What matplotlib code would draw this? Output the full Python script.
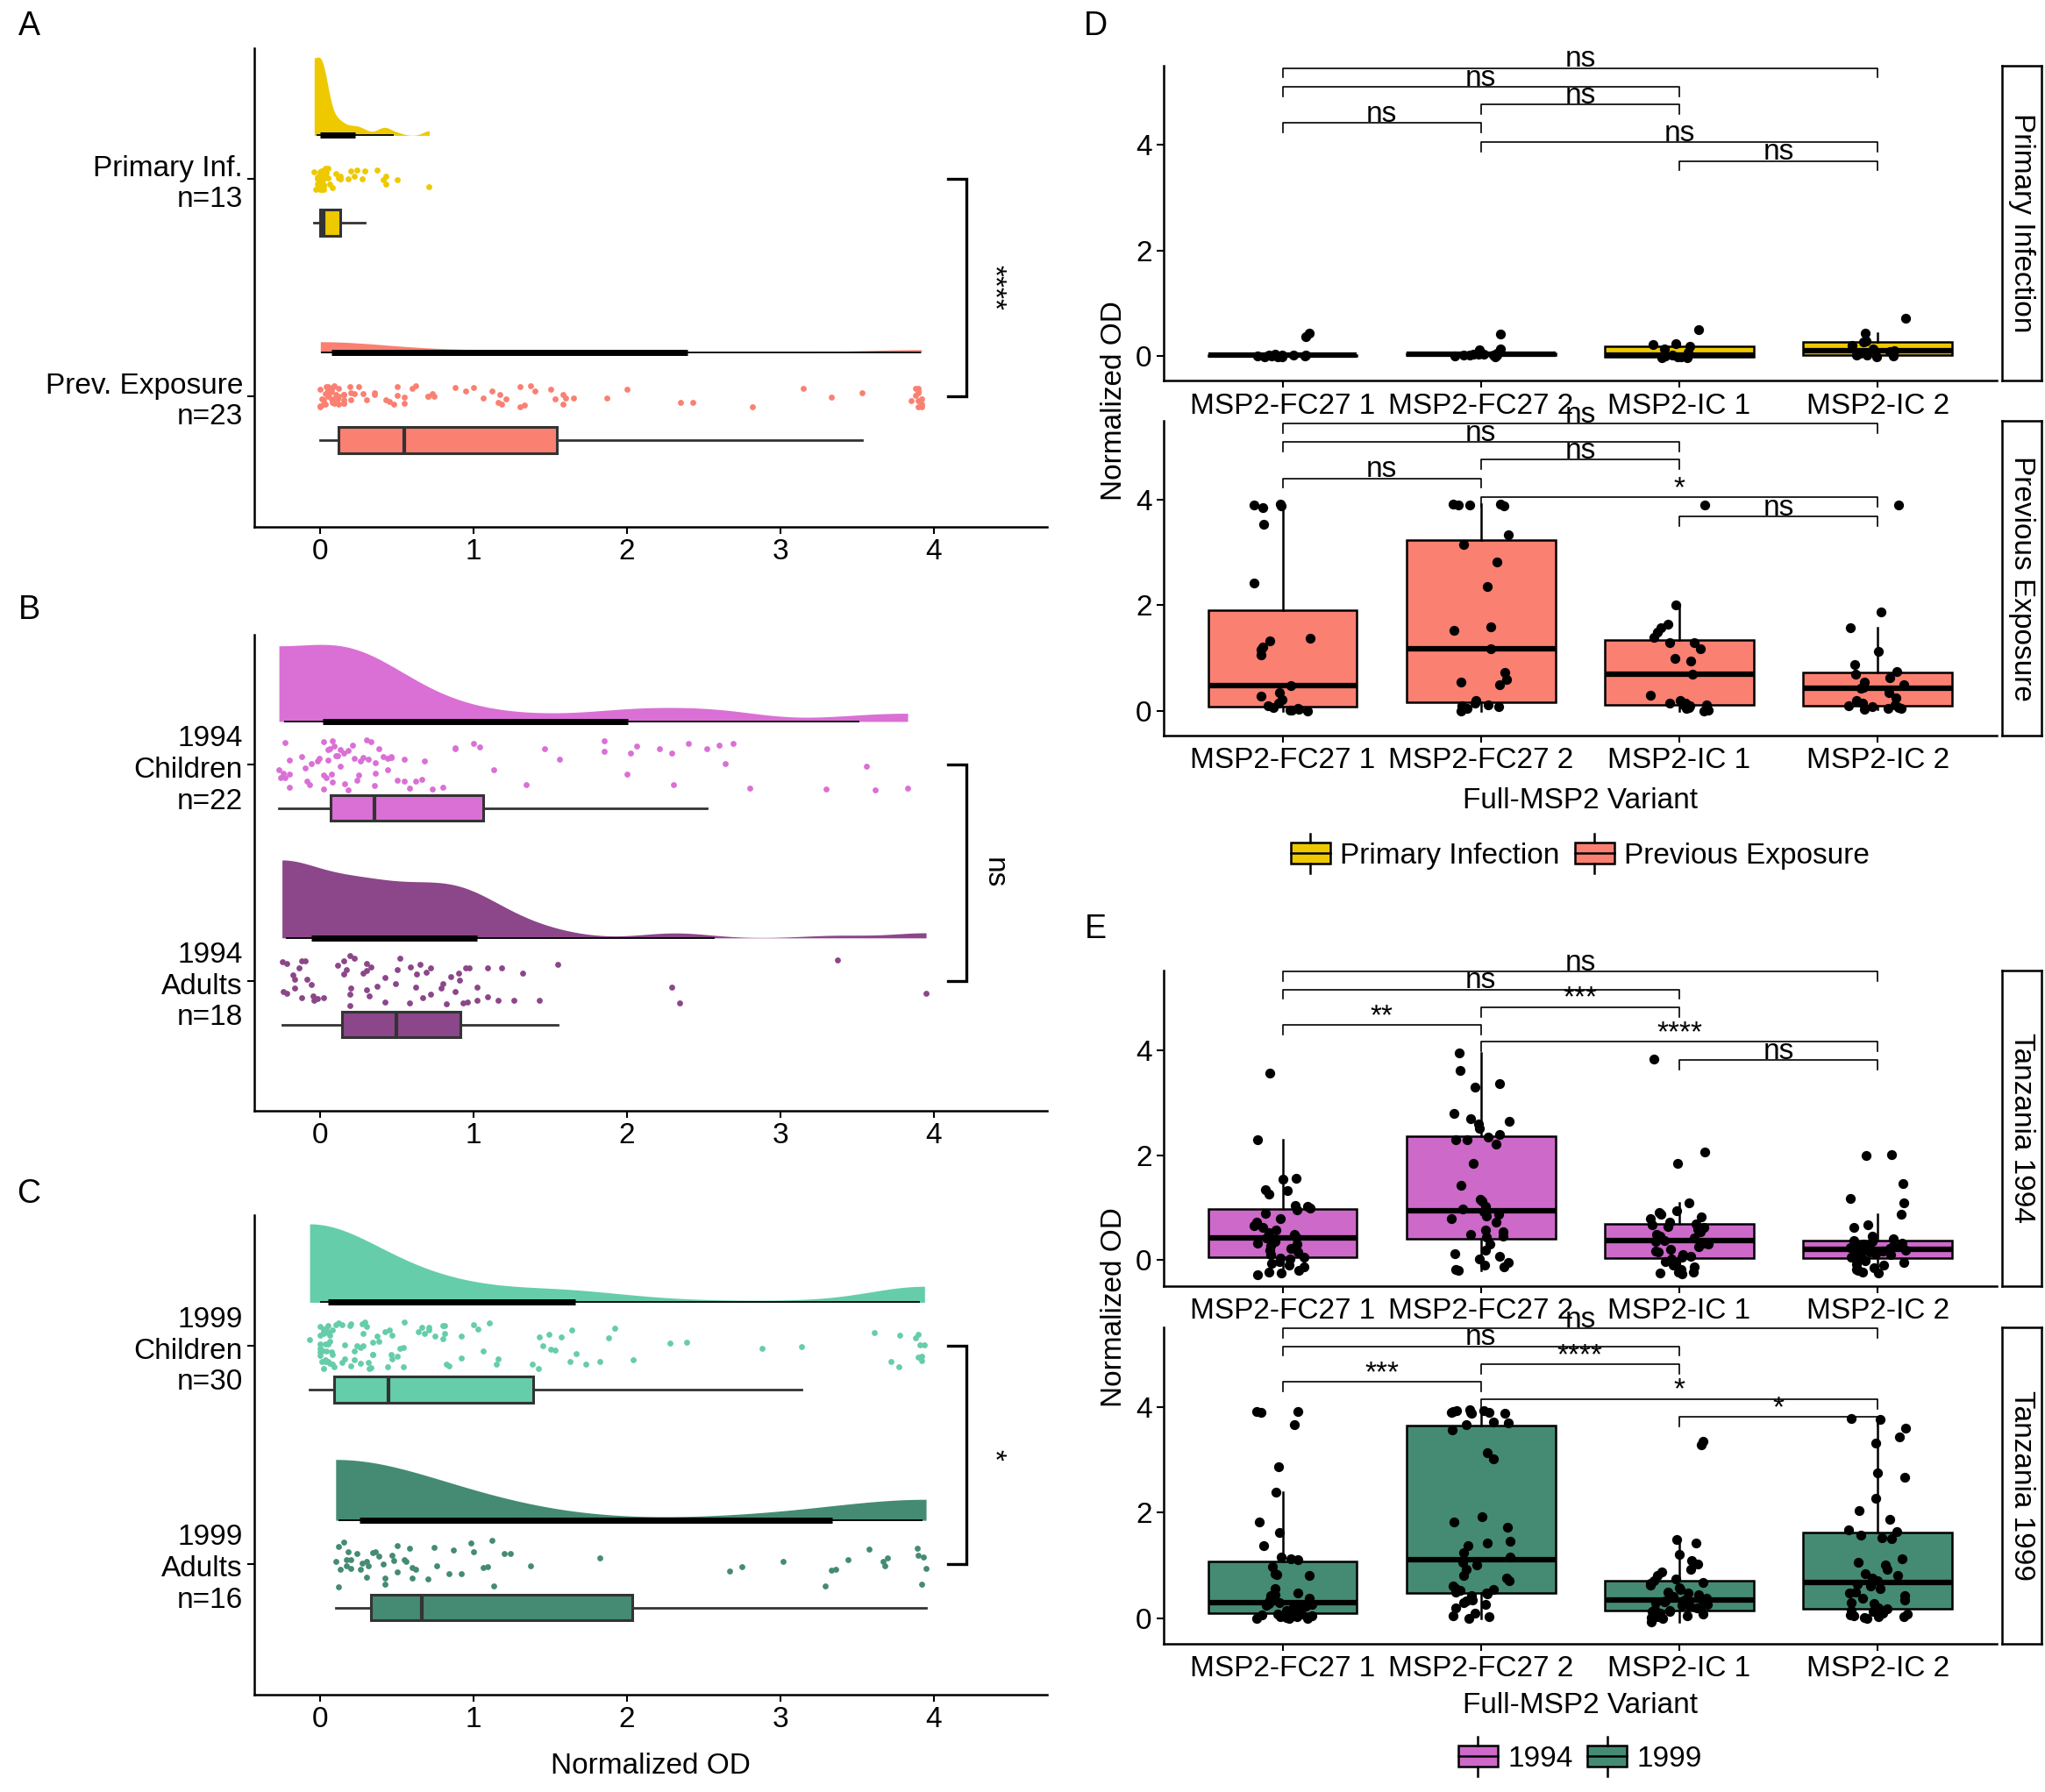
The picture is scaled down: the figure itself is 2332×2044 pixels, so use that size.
import numpy as np
import matplotlib.pyplot as plt
from matplotlib.patches import Rectangle, Patch
from matplotlib.lines import Line2D
from matplotlib.legend_handler import HandlerBase

plt.rcParams['font.family'] = ['Liberation Sans', 'DejaVu Sans']
plt.rcParams['font.size'] = 24

# ---------------- data (normalized OD per subject, per variant) ----------------
variants = ['MSP2-FC27 1', 'MSP2-FC27 2', 'MSP2-IC 1', 'MSP2-IC 2']

# primary infection, n=13
pi_fc1 = [0.43, 0.37, 0.03, 0.02, 0.01, 0.01, 0.01, 0.0, 0.0, 0.0, -0.01, -0.01, -0.02]
pi_fc2 = [0.41, 0.13, 0.12, 0.05, 0.04, 0.03, 0.03, 0.02, 0.02, 0.01, 0.01, 0.0, -0.02]
pi_ic1 = [0.5, 0.24, 0.22, 0.18, 0.13, 0.06, 0.02, 0.01, 0.0, -0.01, -0.01, -0.03, -0.04]
pi_ic2 = [0.71, 0.43, 0.29, 0.27, 0.2, 0.13, 0.1, 0.08, 0.05, 0.02, 0.01, 0.0, -0.02]

# previous exposure, n=23
pe_fc1 = [0.0, 0.01, 0.02, 0.03, 0.05, 0.07, 0.09, 0.15, 0.22, 0.28, 0.35, 0.48, 1.06,
          1.16, 1.21, 1.33, 1.37, 2.43, 3.53, 3.85, 3.88, 3.9, 3.92]
pe_fc2 = [0.0, 0.05, 0.08, 0.1, 0.12, 0.15, 0.19, 0.5, 0.55, 0.6, 0.73, 1.17, 1.53,
          1.6, 2.35, 2.82, 3.15, 3.33, 3.88, 3.9, 3.9, 3.92, 3.92]
pe_ic1 = [0.0, 0.02, 0.04, 0.06, 0.1, 0.12, 0.12, 0.15, 0.15, 0.2, 0.3, 0.7, 0.95,
          1.0, 1.18, 1.3, 1.3, 1.4, 1.5, 1.58, 1.65, 2.0, 3.9]
pe_ic2 = [0.03, 0.05, 0.05, 0.07, 0.08, 0.09, 0.11, 0.15, 0.2, 0.25, 0.35, 0.43, 0.45,
          0.5, 0.55, 0.62, 0.7, 0.74, 0.88, 1.12, 1.58, 1.87, 3.9]

# Tanzania 1994 children, n=22
c94_fc1 = [-0.27, -0.23, -0.2, -0.1, -0.06, 0.02, 0.04, 0.06, 0.1, 0.15, 0.22, 0.3, 0.36,
           0.44, 0.5, 0.58, 0.66, 1.0, 1.04, 1.34, 1.56, 3.56]
c94_fc2 = [-0.2, -0.12, 0.02, 0.08, 0.13, 0.44, 0.46, 0.55, 0.8, 1.13, 1.85, 2.21, 2.29,
           2.3, 2.4, 2.52, 2.6, 2.64, 2.69, 2.8, 3.3, 3.62]
c94_ic1 = [-0.26, -0.23, -0.09, -0.02, 0.02, 0.05, 0.08, 0.11, 0.18, 0.25, 0.33, 0.36,
           0.38, 0.46, 0.55, 0.62, 0.68, 0.73, 0.88, 1.85, 2.06, 3.83]
c94_ic2 = [-0.24, -0.2, -0.07, -0.01, 0.05, 0.07, 0.09, 0.13, 0.16, 0.18, 0.21, 0.24,
           0.26, 0.28, 0.31, 0.35, 0.41, 0.46, 0.88, 1.46, 2.0, 2.02]

# Tanzania 1994 adults, n=18
a94_fc1 = [-0.25, -0.12, -0.02, 0.19, 0.28, 0.32, 0.42, 0.52, 0.62, 0.72, 0.8, 0.9, 0.96,
           1.02, 1.26, 1.32, 1.55, 2.29]
a94_fc2 = [-0.17, -0.09, -0.05, 0.19, 0.3, 0.49, 0.58, 0.72, 0.85, 0.88, 0.93, 0.97, 1.02,
           1.16, 1.43, 2.34, 3.37, 3.95]
a94_ic1 = [-0.24, -0.22, -0.18, -0.12, -0.06, 0.15, 0.2, 0.3, 0.42, 0.5, 0.59, 0.65, 0.69,
           0.79, 0.82, 0.91, 0.95, 1.09]
a94_ic2 = [-0.22, -0.17, -0.14, -0.1, -0.04, 0.02, 0.11, 0.15, 0.17, 0.19, 0.22, 0.3, 0.33,
           0.37, 0.63, 0.67, 1.09, 1.18]

# Tanzania 1999 children, n=30
c99_fc1 = [0.0, 0.0, 0.0, 0.01, 0.02, 0.02, 0.03, 0.04, 0.05, 0.06, 0.07, 0.08, 0.19, 0.22,
           0.26, 0.28, 0.29, 0.31, 0.37, 0.45, 0.8, 0.82, 0.84, 1.1, 1.15, 1.63, 2.39, 2.88,
           3.9, 3.92]
c99_fc2 = [0.0, 0.03, 0.05, 0.09, 0.26, 0.32, 0.34, 0.46, 0.47, 0.52, 0.54, 0.55, 0.71, 0.81,
           0.92, 1.06, 1.16, 1.38, 1.42, 1.45, 1.73, 1.82, 1.92, 3.14, 3.72, 3.88, 3.9, 3.91,
           3.92, 3.94]
c99_ic1 = [-0.07, 0.0, 0.01, 0.02, 0.04, 0.05, 0.06, 0.08, 0.12, 0.14, 0.16, 0.2, 0.22, 0.24,
           0.28, 0.3, 0.33, 0.34, 0.38, 0.44, 0.47, 0.54, 0.66, 0.68, 0.71, 0.81, 0.92, 1.03,
           1.43, 1.49]
c99_ic2 = [0.0, 0.01, 0.02, 0.03, 0.05, 0.06, 0.08, 0.1, 0.14, 0.16, 0.2, 0.27, 0.34, 0.42,
           0.5, 0.64, 0.75, 0.8, 1.0, 1.5, 1.53, 1.57, 1.64, 1.67, 1.88, 2.04, 2.28, 3.61,
           3.77, 3.78]

# Tanzania 1999 adults, n=16
a99_fc1 = [0.12, 0.15, 0.17, 0.2, 0.24, 0.27, 0.34, 0.42, 0.48, 0.56, 0.98, 1.13, 1.37, 1.82,
           3.67, 3.92]
a99_fc2 = [0.2, 0.3, 0.42, 0.5, 0.6, 0.76, 1.0, 1.24, 3.02, 3.58, 3.68, 3.7, 3.89, 3.9,
           3.93, 3.95]
a99_ic1 = [0.1, 0.13, 0.18, 0.26, 0.31, 0.36, 0.41, 0.5, 0.58, 0.62, 0.74, 0.87, 1.09, 1.2,
           3.29, 3.36]
a99_ic2 = [0.12, 0.17, 0.3, 0.38, 0.47, 0.55, 0.6, 0.7, 0.84, 0.92, 1.06, 1.12, 2.67, 2.75,
           3.33, 3.44]

# significance brackets: (from, to, label)
pairs = [(1, 4), (1, 3), (2, 3), (1, 2), (2, 4), (3, 4)]
sig_pi = ['ns', 'ns', 'ns', 'ns', 'ns', 'ns']
sig_pe = ['ns', 'ns', 'ns', 'ns', '*', 'ns']
sig_94 = ['ns', 'ns', '***', '**', '****', 'ns']
sig_99 = ['ns', 'ns', '****', '***', '*', '*']
ypos_d = [5.45, 5.1, 4.76, 4.41, 4.05, 3.69]
ypos_e = [5.5, 5.16, 4.82, 4.48, 4.16, 3.82]

# colours
c_pi = '#EEC900'
c_pe = '#FA8072'
c_c94 = '#DA70D6'
c_a94 = '#8B4789'
c_c99 = '#66CDAA'
c_a99 = '#458B74'
c_box94 = '#CD69C9'

rng = np.random.default_rng(7)   # jitter only


def nrd0(x):
    sd = np.std(x, ddof=1)
    iqr = np.subtract(*np.percentile(x, [75, 25]))
    lo = min(sd, iqr / 1.34) if iqr > 0 else sd
    return 0.9 * lo * len(x) ** -0.2


def bounded_kde(x, grid):
    bw = nrd0(x)
    a, b = x.min(), x.max()
    pts = np.concatenate([x, 2 * a - x, 2 * b - x])
    d = np.exp(-0.5 * ((grid[:, None] - pts[None, :]) / bw) ** 2).sum(1)
    return d / (len(x) * bw * np.sqrt(2 * np.pi))


def style_axes(ax):
    for s in ['top', 'right']:
        ax.spines[s].set_visible(False)
    for s in ['left', 'bottom']:
        ax.spines[s].set_linewidth(1.8)
    ax.tick_params(length=6, width=1.5, labelsize=24, colors='black')


def raincloud(ax, groups, labels, colors, jit, sig):
    n = len(groups)
    ys = np.arange(n, 0, -1)
    curves = []
    for g in groups:
        grid = np.linspace(g.min(), g.max(), 500)
        curves.append((grid, bounded_kde(g, grid)))
    dmax = max(d.max() for _, d in curves)
    for g, y, c, (grid, d) in zip(groups, ys, colors, curves):
        base = y + 0.2
        ax.fill_between(grid, base, base + 0.36 * d / dmax, color=c, lw=0, zorder=1)
        q = np.quantile(g, [0.025, 0.17, 0.83, 0.975])
        ax.plot([q[0], q[3]], [base, base], color='black', lw=1.3, solid_capstyle='butt', zorder=2)
        ax.plot([q[1], q[2]], [base, base], color='black', lw=5, solid_capstyle='butt', zorder=2)
        ax.scatter(g, y + rng.uniform(-jit, jit, len(g)), s=24, color=c, lw=0, zorder=3)
        ax.boxplot(g, orientation='horizontal', positions=[y - 0.2], widths=0.12,
                   patch_artist=True, showfliers=False, showcaps=False,
                   boxprops=dict(facecolor=c, edgecolor='#333333', lw=2.2),
                   medianprops=dict(color='#333333', lw=3),
                   whiskerprops=dict(color='#333333', lw=2))
    ax.set_xlim(-0.43, 4.74)
    ax.set_ylim(0.4, n + 0.6)
    ax.set_xticks([0, 1, 2, 3, 4])
    ax.set_yticks(ys)
    ax.set_yticklabels(labels, linespacing=1.2)
    # bracket between groups
    ax.plot([4.09, 4.21, 4.21, 4.09], [ys[0], ys[0], ys[1], ys[1]], color='black',
            lw=2.4, clip_on=False, solid_joinstyle='miter')
    ax.text(4.39, (ys[0] + ys[1]) / 2, sig, rotation=270, ha='center', va='center',
            fontsize=24, clip_on=False)
    style_axes(ax)


def facet(ax, data, color, sigs, ypos, ylim):
    ax.boxplot(data, positions=[1, 2, 3, 4], widths=0.75, patch_artist=True,
               showfliers=False, showcaps=False,
               boxprops=dict(facecolor=color, edgecolor='black', lw=1.8),
               medianprops=dict(color='black', lw=4.5),
               whiskerprops=dict(color='black', lw=1.8))
    for i, v in enumerate(data):
        ax.scatter(i + 1 + rng.uniform(-0.15, 0.15, len(v)), v, s=66, color='black',
                   lw=0, zorder=4)
    tip = 0.03 * (ylim[1] - ylim[0])
    for (i, j), lab, y in zip(pairs, sigs, ypos):
        ax.plot([i, i, j, j], [y - tip, y, y, y - tip], color='black', lw=1.2, clip_on=False)
        ax.text((i + j) / 2, y + 0.02, lab, ha='center', va='baseline', fontsize=24,
                clip_on=False)
    ax.set_xlim(0.4, 4.6)
    ax.set_ylim(*ylim)
    ax.set_xticks([1, 2, 3, 4])
    ax.set_xticklabels(variants)
    ax.set_yticks([0, 2, 4])
    style_axes(ax)


def strip(fig, ref_ax, text):
    pos = ref_ax.get_position()
    sax = fig.add_axes([0.979, pos.y0, 0.0193, pos.height])
    sax.set_xticks([])
    sax.set_yticks([])
    for s in sax.spines.values():
        s.set_linewidth(1.8)
    sax.text(0.5, 0.5, text, rotation=270, ha='center', va='center', fontsize=24,
             transform=sax.transAxes)


class BoxKey(HandlerBase):
    def create_artists(self, legend, orig_handle, xdescent, ydescent, width, height,
                       fontsize, trans):
        x0, y0 = -xdescent, -ydescent
        fc = orig_handle.get_facecolor()
        rect = Rectangle((x0, y0 + 0.15 * height), width, 0.7 * height, facecolor=fc,
                         edgecolor='black', lw=1.8, transform=trans)
        mid = Line2D([x0, x0 + width], [y0 + 0.5 * height] * 2, color='black', lw=1.8,
                     transform=trans)
        xm = x0 + width / 2
        w1 = Line2D([xm, xm], [y0 - 0.15 * height, y0 + 0.15 * height], color='black',
                    lw=1.8, transform=trans)
        w2 = Line2D([xm, xm], [y0 + 0.85 * height, y0 + 1.15 * height], color='black',
                    lw=1.8, transform=trans)
        return [rect, mid, w1, w2]


fig = plt.figure(figsize=(23.32, 20.44), dpi=100)

# ---------------- A-C: rainclouds ----------------
axA = fig.add_axes([0.1244, 0.706, 0.3877, 0.267])
axB = fig.add_axes([0.1244, 0.380, 0.3877, 0.2657])
axC = fig.add_axes([0.1244, 0.0543, 0.3877, 0.2676])

pi_all = np.array(pi_fc1 + pi_fc2 + pi_ic1 + pi_ic2)
pe_all = np.array(pe_fc1 + pe_fc2 + pe_ic1 + pe_ic2)
raincloud(axA, [pi_all, pe_all],
          [f'Primary Inf.\nn={len(pi_fc1)}', f'Prev. Exposure\nn={len(pe_fc1)}'],
          [c_pi, c_pe], 0.05, '****')

c94_all = np.array(c94_fc1 + c94_fc2 + c94_ic1 + c94_ic2)
a94_all = np.array(a94_fc1 + a94_fc2 + a94_ic1 + a94_ic2)
raincloud(axB, [c94_all, a94_all],
          [f'1994\nChildren\nn={len(c94_fc1)}', f'1994\nAdults\nn={len(a94_fc1)}'],
          [c_c94, c_a94], 0.12, 'ns')

c99_all = np.array(c99_fc1 + c99_fc2 + c99_ic1 + c99_ic2)
a99_all = np.array(a99_fc1 + a99_fc2 + a99_ic1 + a99_ic2)
raincloud(axC, [c99_all, a99_all],
          [f'1999\nChildren\nn={len(c99_fc1)}', f'1999\nAdults\nn={len(a99_fc1)}'],
          [c_c99, c_a99], 0.11, '*')
fig.text(0.318, 0.0142, 'Normalized OD', ha='center', va='center', fontsize=24)

# ---------------- D: by exposure ----------------
axD1 = fig.add_axes([0.569, 0.7875, 0.4074, 0.176])
axD2 = fig.add_axes([0.569, 0.5895, 0.4074, 0.1757])
facet(axD1, [pi_fc1, pi_fc2, pi_ic1, pi_ic2], c_pi, sig_pi, ypos_d, (-0.47, 5.5))
facet(axD2, [pe_fc1, pe_fc2, pe_ic1, pe_ic2], c_pe, sig_pe, ypos_d, (-0.47, 5.5))
strip(fig, axD1, 'Primary Infection')
strip(fig, axD2, 'Previous Exposure')
fig.text(0.545, 0.7764, 'Normalized OD', rotation=90, ha='center', va='center', fontsize=24)
fig.text(0.7727, 0.5533, 'Full-MSP2 Variant', ha='center', va='center', fontsize=24)
fig.legend(handles=[Patch(facecolor=c_pi, label='Primary Infection'),
                    Patch(facecolor=c_pe, label='Previous Exposure')],
           handler_map={Patch: BoxKey()}, loc='center', bbox_to_anchor=(0.7727, 0.5235),
           ncol=2, frameon=False, fontsize=24, handlelength=1.35, handleheight=1.2,
           handletextpad=0.35, columnspacing=0.5)

# ---------------- E: by year ----------------
axE1 = fig.add_axes([0.569, 0.2824, 0.4074, 0.176])
axE2 = fig.add_axes([0.569, 0.0827, 0.4074, 0.1766])
facet(axE1, [c94_fc1 + a94_fc1, c94_fc2 + a94_fc2, c94_ic1 + a94_ic1, c94_ic2 + a94_ic2],
      c_box94, sig_94, ypos_e, (-0.49, 5.52))
facet(axE2, [c99_fc1 + a99_fc1, c99_fc2 + a99_fc2, c99_ic1 + a99_ic1, c99_ic2 + a99_ic2],
      c_a99, sig_99, ypos_e, (-0.49, 5.52))
strip(fig, axE1, 'Tanzania 1994')
strip(fig, axE2, 'Tanzania 1999')
fig.text(0.545, 0.2705, 'Normalized OD', rotation=90, ha='center', va='center', fontsize=24)
fig.text(0.7727, 0.0484, 'Full-MSP2 Variant', ha='center', va='center', fontsize=24)
fig.legend(handles=[Patch(facecolor=c_box94, label='1994'),
                    Patch(facecolor=c_a99, label='1999')],
           handler_map={Patch: BoxKey()}, loc='center', bbox_to_anchor=(0.7727, 0.0196),
           ncol=2, frameon=False, fontsize=24, handlelength=1.35, handleheight=1.2,
           handletextpad=0.35, columnspacing=0.5)

# panel letters
for lab, x, y in [('A', 0.0142, 0.9853), ('B', 0.0142, 0.6595), ('C', 0.0142, 0.3337),
                  ('D', 0.5356, 0.9853), ('E', 0.5356, 0.4814)]:
    fig.text(x, y, lab, ha='center', va='center', fontsize=27)

fig.savefig('out.png', dpi=100, facecolor='white')
